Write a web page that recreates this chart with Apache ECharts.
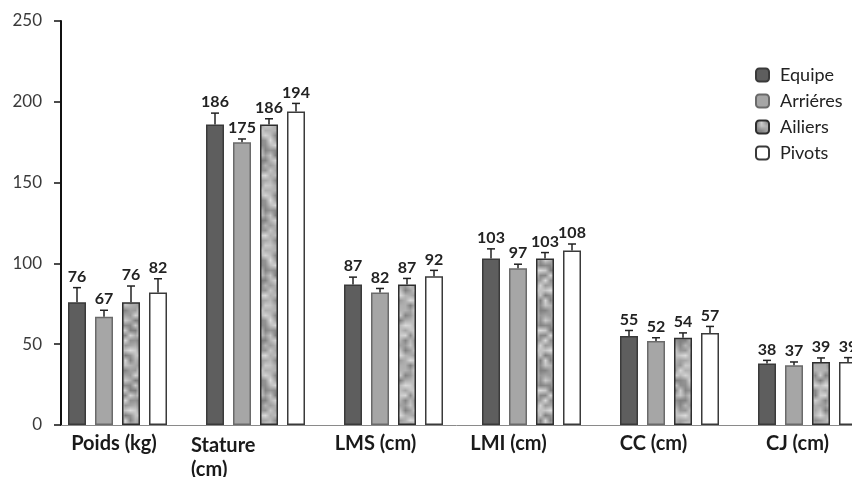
<!DOCTYPE html>
<html>
<head>
<meta charset="utf-8">
<script src="https://cdn.jsdelivr.net/npm/echarts@6/dist/echarts.min.js"></script>
<style>
  html, body { margin: 0; padding: 0; background: #fff; }
  #chart { width: 852px; height: 477px; }
</style>
</head>
<body>
<div id="chart"></div>
<script>
var categories = ['Poids (kg)', 'Stature (cm)', 'LMS (cm)', 'LMI (cm)', 'CC (cm)', 'CJ (cm)'];
var groups = ['Equipe', 'Arriéres', 'Ailiers', 'Pivots'];

var equipe   = [76, 186, 87, 103, 55, 38];
var arrieres = [67, 175, 82, 97, 52, 37];
var ailiers  = [76, 186, 87, 103, 54, 39];
var pivots   = [82, 194, 92, 108, 57, 39];

// ecarts-types (barres d'erreur vers le haut)
var equipeSd   = [9, 7, 4.5, 6, 3.5, 2];
var arrieresSd = [4, 2, 2.5, 2.5, 2, 2];
var ailiersSd  = [10, 3.5, 3.7, 3.7, 3, 2.5];
var pivotsSd   = [8.5, 5, 3.7, 4, 4, 2.7];

var yTicks = [0, 50, 100, 150, 200, 250];

var BAR_W = 18, BAR_GAP = 9;
var FONT = 'Lato, "Open Sans", sans-serif';
// decalage des etiquettes de categorie vers la gauche (comme dans Excel)
var labelPadRight = { 'Poids (kg)': 7, 'LMS (cm)': 36, 'LMI (cm)': 46, 'CC (cm)': 32, 'CJ (cm)': 20 };

// texture grise marbree pour "Ailiers"
function makeTexture() {
    var size = 60, cell = 5, n = size / cell;
    var c = document.createElement('canvas');
    c.width = size; c.height = size;
    var ctx = c.getContext('2d');
    function h(i, j) {
        i = (i + n) % n; j = (j + n) % n;
        var s = Math.sin(i * 12.9898 + j * 78.233) * 43758.5453;
        return s - Math.floor(s);
    }
    var img = ctx.createImageData(size, size);
    for (var y = 0; y < size; y++) {
        for (var x = 0; x < size; x++) {
            var gx = x / cell, gy = y / cell;
            var i = Math.floor(gx), j = Math.floor(gy);
            var fx = gx - i, fy = gy - j;
            var v = h(i, j) * (1 - fx) * (1 - fy) + h(i + 1, j) * fx * (1 - fy) +
                    h(i, j + 1) * (1 - fx) * fy + h(i + 1, j + 1) * fx * fy;
            var g = Math.round(125 + v * 95);
            var k = (y * size + x) * 4;
            img.data[k] = g; img.data[k + 1] = g; img.data[k + 2] = g; img.data[k + 3] = 255;
        }
    }
    ctx.putImageData(img, 0, 0);
    return c;
}

var styles = [
    { color: '#5e5e5e', borderColor: '#3a3a3a', borderWidth: 1.5 },
    { color: '#a6a6a6', borderColor: '#6a6a6a', borderWidth: 1.5 },
    { color: { image: makeTexture(), repeat: 'repeat' }, borderColor: '#2e2e2e', borderWidth: 1.5 },
    { color: '#ffffff', borderColor: '#3a3a3a', borderWidth: 1.5 }
];

function barSeries(name, values, idx) {
    return {
        name: name,
        type: 'bar',
        xAxisIndex: 1,
        yAxisIndex: 1,
        barWidth: BAR_W,
        barGap: '50%',
        itemStyle: styles[idx],
        data: values,
        z: 2
    };
}

function errorSeries(name, values, sds, idx) {
    return {
        name: name + ' sd',
        type: 'custom',
        xAxisIndex: 1,
        yAxisIndex: 1,
        silent: true,
        z: 3,
        data: values.map(function (v, i) { return [i, v, sds[i]]; }),
        renderItem: function (params, api) {
            var base = api.coord([api.value(0), api.value(1)]);
            var top = api.coord([api.value(0), api.value(1) + api.value(2)]);
            var x = base[0] + (idx - 1.5) * (BAR_W + BAR_GAP);
            return {
                type: 'group',
                children: [
                    { type: 'line', shape: { x1: x, y1: base[1], x2: x, y2: top[1] },
                      style: { stroke: '#222', lineWidth: 1.5 } },
                    { type: 'line', shape: { x1: x - 4, y1: top[1], x2: x + 4, y2: top[1] },
                      style: { stroke: '#222', lineWidth: 1.5 } },
                    { type: 'text',
                      style: { text: String(api.value(1)), x: x, y: top[1] - 3,
                               align: 'center', verticalAlign: 'bottom',
                               fontFamily: FONT, fontWeight: 'bold', fontSize: 16, fill: '#222' } }
                ]
            };
        }
    };
}

var chart = echarts.init(document.getElementById('chart'));

chart.setOption({
    backgroundColor: '#fff',
    animation: false,
    grid: [
        { left: 61, right: 0, top: 21, bottom: 52, outerBoundsMode: 'none' },
        { left: 48.5, width: 828, top: 21, bottom: 52, outerBoundsMode: 'none' }
    ],
    legend: {
        data: groups,
        orient: 'vertical',
        left: 750,
        top: 60,
        icon: 'roundRect',
        itemWidth: 13,
        itemHeight: 13,
        itemGap: 6,
        textStyle: { fontFamily: FONT, fontSize: 18, color: '#222', lineHeight: 20, padding: [0, 0, 0, 6] }
    },
    xAxis: [
        {
            gridIndex: 0, type: 'value', min: 0, max: 1,
            axisLine: { show: true, lineStyle: { color: '#8a8a8a', width: 1 } },
            axisTick: { show: false }, axisLabel: { show: false }, splitLine: { show: false }
        },
        {
            gridIndex: 1, type: 'category',
            data: categories.map(function (c) {
                if (c === 'Stature (cm)') return { value: c, textStyle: { align: 'right' } };
                return { value: c, textStyle: { padding: [0, labelPadRight[c] || 0, 0, 0] } };
            }),
            axisLine: { show: false }, axisTick: { show: false },
            axisLabel: {
                interval: 0, margin: 9,
                fontFamily: FONT, fontWeight: 'bold', fontSize: 20, color: '#1a1a1a',
                formatter: function (v) {
                    if (v === 'Stature (cm)') return '{l|Stature}\n{l|(cm)}';
                    return v;
                },
                rich: {
                    l: { align: 'left', fontFamily: FONT, fontWeight: 'bold', fontSize: 20,
                         color: '#1a1a1a', lineHeight: 24 }
                }
            }
        }
    ],
    yAxis: [
        {
            gridIndex: 0, type: 'value',
            min: yTicks[0], max: yTicks[yTicks.length - 1], interval: yTicks[1] - yTicks[0],
            axisLine: { show: true, lineStyle: { color: '#111', width: 2 } },
            axisTick: { show: true, length: 7, lineStyle: { color: '#111', width: 1.5 } },
            axisLabel: { margin: 19, fontFamily: FONT, fontSize: 17, color: '#3a3a3a' },
            splitLine: { show: false }
        },
        {
            gridIndex: 1, type: 'value', show: false,
            min: yTicks[0], max: yTicks[yTicks.length - 1]
        }
    ],
    series: [
        barSeries(groups[0], equipe, 0),
        barSeries(groups[1], arrieres, 1),
        barSeries(groups[2], ailiers, 2),
        barSeries(groups[3], pivots, 3),
        errorSeries(groups[0], equipe, equipeSd, 0),
        errorSeries(groups[1], arrieres, arrieresSd, 1),
        errorSeries(groups[2], ailiers, ailiersSd, 2),
        errorSeries(groups[3], pivots, pivotsSd, 3)
    ]
});
</script>
</body>
</html>
